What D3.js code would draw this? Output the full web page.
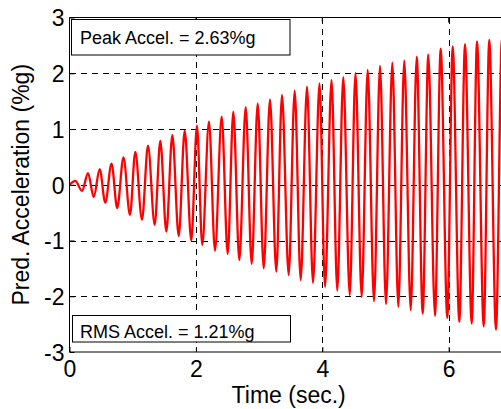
<!DOCTYPE html>
<html>
<head>
<meta charset="utf-8">
<script src="https://cdn.jsdelivr.net/npm/d3@7"></script>
<style>
  html, body { margin: 0; padding: 0; background: #fff; }
  svg { display: block; }
  text { font-family: "Liberation Sans", Arial, Helvetica, sans-serif; fill: #000; }
</style>
</head>
<body>
<svg id="chart" width="501" height="409"></svg>
<script>
// Extrema of the predicted acceleration trace (time in s, acceleration in %g)
const extremaTime = [0.000, 0.092, 0.198, 0.293, 0.383, 0.478, 0.566, 0.665, 0.755, 0.854,
  0.957, 1.041, 1.147, 1.242, 1.348, 1.437, 1.532, 1.627, 1.728, 1.823,
  1.927, 2.017, 2.101, 2.207, 2.302, 2.408, 2.503, 2.592, 2.687, 2.788,
  2.883, 2.978, 3.073, 3.172, 3.272, 3.362, 3.468, 3.563, 3.658, 3.758,
  3.853, 3.956, 4.043, 4.146, 4.237, 4.332, 4.434, 4.525, 4.623, 4.718,
  4.818, 4.913, 5.008, 5.108, 5.203, 5.297, 5.399, 5.494, 5.589, 5.677,
  5.783, 5.873, 5.978, 6.063, 6.168, 6.258, 6.364, 6.448, 6.554, 6.642,
  6.748, 6.843, 6.940];
const extremaAccel = [0.00, 0.07, -0.11, 0.21, -0.22, 0.28, -0.32, 0.38, -0.42, 0.49,
  -0.54, 0.59, -0.63, 0.70, -0.72, 0.79, -0.84, 0.89, -0.92, 0.97,
  -1.00, 1.06, -1.08, 1.13, -1.18, 1.22, -1.24, 1.31, -1.35, 1.39,
  -1.42, 1.46, -1.50, 1.53, -1.56, 1.61, -1.62, 1.69, -1.71, 1.76,
  -1.76, 1.82, -1.83, 1.88, -1.90, 1.93, -1.98, 2.00, -2.01, 2.06,
  -2.09, 2.13, -2.14, 2.19, -2.19, 2.23, -2.25, 2.30, -2.31, 2.34,
  -2.35, 2.44, -2.39, 2.48, -2.46, 2.52, -2.49, 2.57, -2.54, 2.60,
  -2.60, 2.63, -2.62];

const xTicks = [0, 2, 4, 6];
const yTicks = [-3, -2, -1, 0, 1, 2, 3];
const xDomain = [0, 7];
const yDomain = [-3, 3];
const peakLabel = "Peak Accel. = 2.63%g";
const rmsLabel = "RMS Accel. = 1.21%g";
const xTitle = "Time (sec.)";
const yTitle = "Pred. Acceleration (%g)";

const L = 69.5, T = 17.5, B = 352, R = 69.5 + 7 * 63.2;
const svg = d3.select("#chart");
const x = d3.scaleLinear().domain(xDomain).range([L, R]);
const y = d3.scaleLinear().domain(yDomain).range([B, T]);

const data = extremaTime.map((t, i) => ({ t, v: extremaAccel[i] }));
const fmt = d => String(d);

// white plot background
svg.append("rect").attr("x", L).attr("y", T).attr("width", R - L).attr("height", B - T).attr("fill", "#fff");

// grid
const grid = svg.append("g").attr("stroke", "#000").attr("stroke-width", 1).attr("stroke-dasharray", "6,5").attr("shape-rendering", "crispEdges");
grid.selectAll("line.gx").data(xTicks.filter(d => d !== xDomain[0])).join("line")
  .attr("x1", d => Math.round(x(d)) + 0.5).attr("x2", d => Math.round(x(d)) + 0.5)
  .attr("y1", T).attr("y2", B);
grid.selectAll("line.gy").data(yTicks.filter(d => d !== yDomain[0] && d !== yDomain[1])).join("line")
  .attr("x1", L).attr("x2", R)
  .attr("y1", d => Math.round(y(d)) + 0.5).attr("y2", d => Math.round(y(d)) + 0.5);

// trace
svg.append("clipPath").attr("id", "clip").append("rect")
  .attr("x", L).attr("y", T).attr("width", R - L).attr("height", B - T);
svg.append("path").datum(data)
  .attr("clip-path", "url(#clip)")
  .attr("fill", "none").attr("stroke", "#ff0000").attr("stroke-width", 2.3).attr("stroke-linejoin", "round")
  .attr("d", d3.line().x(d => x(d.t)).y(d => y(d.v)).curve(d3.curveMonotoneX));

// axes
const xAxis = d3.axisBottom(x).tickValues(xTicks).tickFormat(fmt).tickSize(-5).tickPadding(8);
const yAxis = d3.axisLeft(y).tickValues(yTicks).tickFormat(fmt).tickSize(-5).tickPadding(5);
const gx = svg.append("g").attr("transform", `translate(0,${B})`).call(xAxis);
const gy = svg.append("g").attr("transform", `translate(${L},0)`).call(yAxis);
[gx, gy].forEach(g => {
  g.select(".domain").remove();
  g.selectAll("line").attr("stroke", "#000");
  g.selectAll("text").style("font-size", "23px").attr("fill", "#000");
});
gx.selectAll("text").attr("dy", "0.72em");
gy.selectAll("text").attr("dy", "0.36em");

// top ticks
svg.append("g").selectAll("line").data(xTicks).join("line")
  .attr("x1", d => x(d)).attr("x2", d => x(d)).attr("y1", T).attr("y2", T + 5).attr("stroke", "#000");

// frame
svg.append("path").attr("fill", "none").attr("stroke", "#000").attr("stroke-width", 1)
  .attr("d", `M${R},${T}H${L}V${B}H${R}`);

// annotation boxes
function box(x0, y0, w, h, label, ty) {
  svg.append("rect").attr("x", x0).attr("y", y0).attr("width", w).attr("height", h)
    .attr("fill", "#fff").attr("stroke", "#000").attr("stroke-width", 1);
  svg.append("text").attr("x", 80).attr("y", ty).style("font-size", "18px").text(label);
}
box(71.5, 19.5, 218.5, 35.5, peakLabel, 43.5);
box(72.5, 315.5, 218, 26.5, rmsLabel, 337.5);

// titles
svg.append("text").attr("x", (L + R) / 2 - 2).attr("y", 403).attr("text-anchor", "middle")
  .style("font-size", "23px").text(xTitle);
svg.append("text").attr("transform", `translate(29,${(T + B) / 2}) rotate(-90)`).attr("text-anchor", "middle")
  .style("font-size", "23px").text(yTitle);
</script>
</body>
</html>
